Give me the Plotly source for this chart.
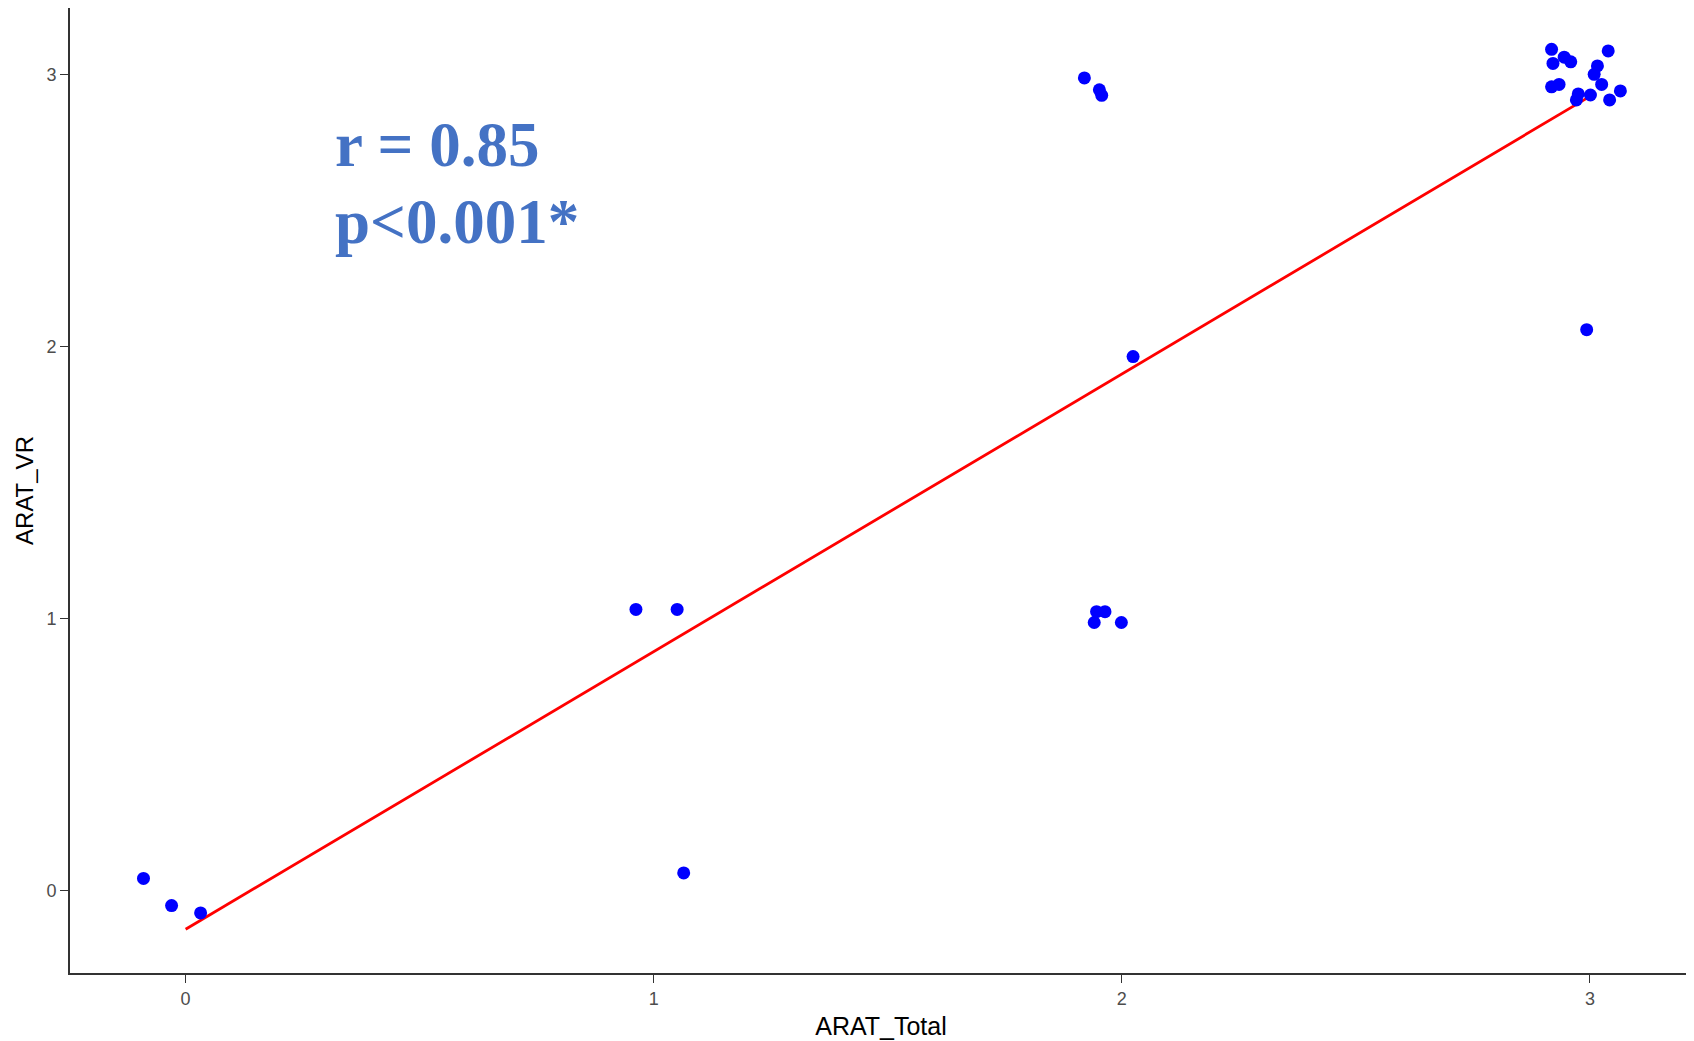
import plotly.graph_objects as go

# Jittered observations (ARAT_Total, ARAT_VR)
arat_total = [-0.09, -0.03, 0.032, 1.064, 0.962, 1.05,
              1.92, 1.952, 1.957, 2.024,
              1.946, 1.964, 1.941, 1.999, 2.993,
              2.918, 2.921, 2.945, 2.959, 3.039, 3.016, 3.009,
              2.918, 2.934, 3.025, 2.975, 2.971, 3.001, 3.065, 3.042]
arat_vr = [0.044, -0.056, -0.083, 0.064, 1.033, 1.033,
           2.988, 2.944, 2.924, 1.963,
           1.025, 1.025, 0.985, 0.985, 2.062,
           3.093, 3.041, 3.064, 3.047, 3.087, 3.032, 3.001,
           2.955, 2.964, 2.964, 2.929, 2.907, 2.925, 2.940, 2.907]

# Linear fit
fit_x = [0, 3]
fit_intercept = -0.143
fit_slope = 1.021
fit_y = [fit_intercept + fit_slope * v for v in fit_x]

tick_vals = [0, 1, 2, 3]
tick_text = ["0", "1", "2", "3"]

stat_lines = ["r = 0.85", "p&lt;0.001*"]

fig = go.Figure()
fig.add_trace(go.Scatter(x=fit_x, y=fit_y, mode="lines",
                         line=dict(color="#FF0000", width=2.8), showlegend=False))
fig.add_trace(go.Scatter(x=arat_total, y=arat_vr, mode="markers",
                         marker=dict(color="#0000FF", size=13, line=dict(width=0)),
                         showlegend=False))

axis_common = dict(showgrid=False, zeroline=False, showline=True, linecolor="#333333",
                   linewidth=2, ticks="outside", ticklen=8, tickwidth=1.3, tickcolor="#333333",
                   tickfont=dict(family="Liberation Sans, Arial", size=18, color="#4D4D4D"),
                   tickvals=tick_vals, ticktext=tick_text)

fig.update_layout(
    width=1686, height=1033,
    plot_bgcolor="white", paper_bgcolor="white",
    margin=dict(l=62, r=2, t=0, b=68),
    xaxis=dict(range=[-0.247, 3.218], title=dict(text="ARAT_Total", standoff=10,
               font=dict(family="Liberation Sans, Arial", size=25, color="#000000")), **axis_common),
    yaxis=dict(range=[-0.304, 3.245], title=dict(text="ARAT_VR", standoff=6,
               font=dict(family="Liberation Sans, Arial", size=24, color="#000000")), **axis_common),
    annotations=[
        dict(x=0.162, y=0.896, xref="paper", yref="paper", xanchor="left", yanchor="top",
             showarrow=False, text="<b>" + stat_lines[0] + "</b>",
             font=dict(family="Liberation Serif, Times New Roman", size=63, color="#4472C4")),
        dict(x=0.162, y=0.817, xref="paper", yref="paper", xanchor="left", yanchor="top",
             showarrow=False, text="<b>" + stat_lines[1] + "</b>",
             font=dict(family="Liberation Serif, Times New Roman", size=63, color="#4472C4")),
    ],
)

fig.write_html("out.html")
